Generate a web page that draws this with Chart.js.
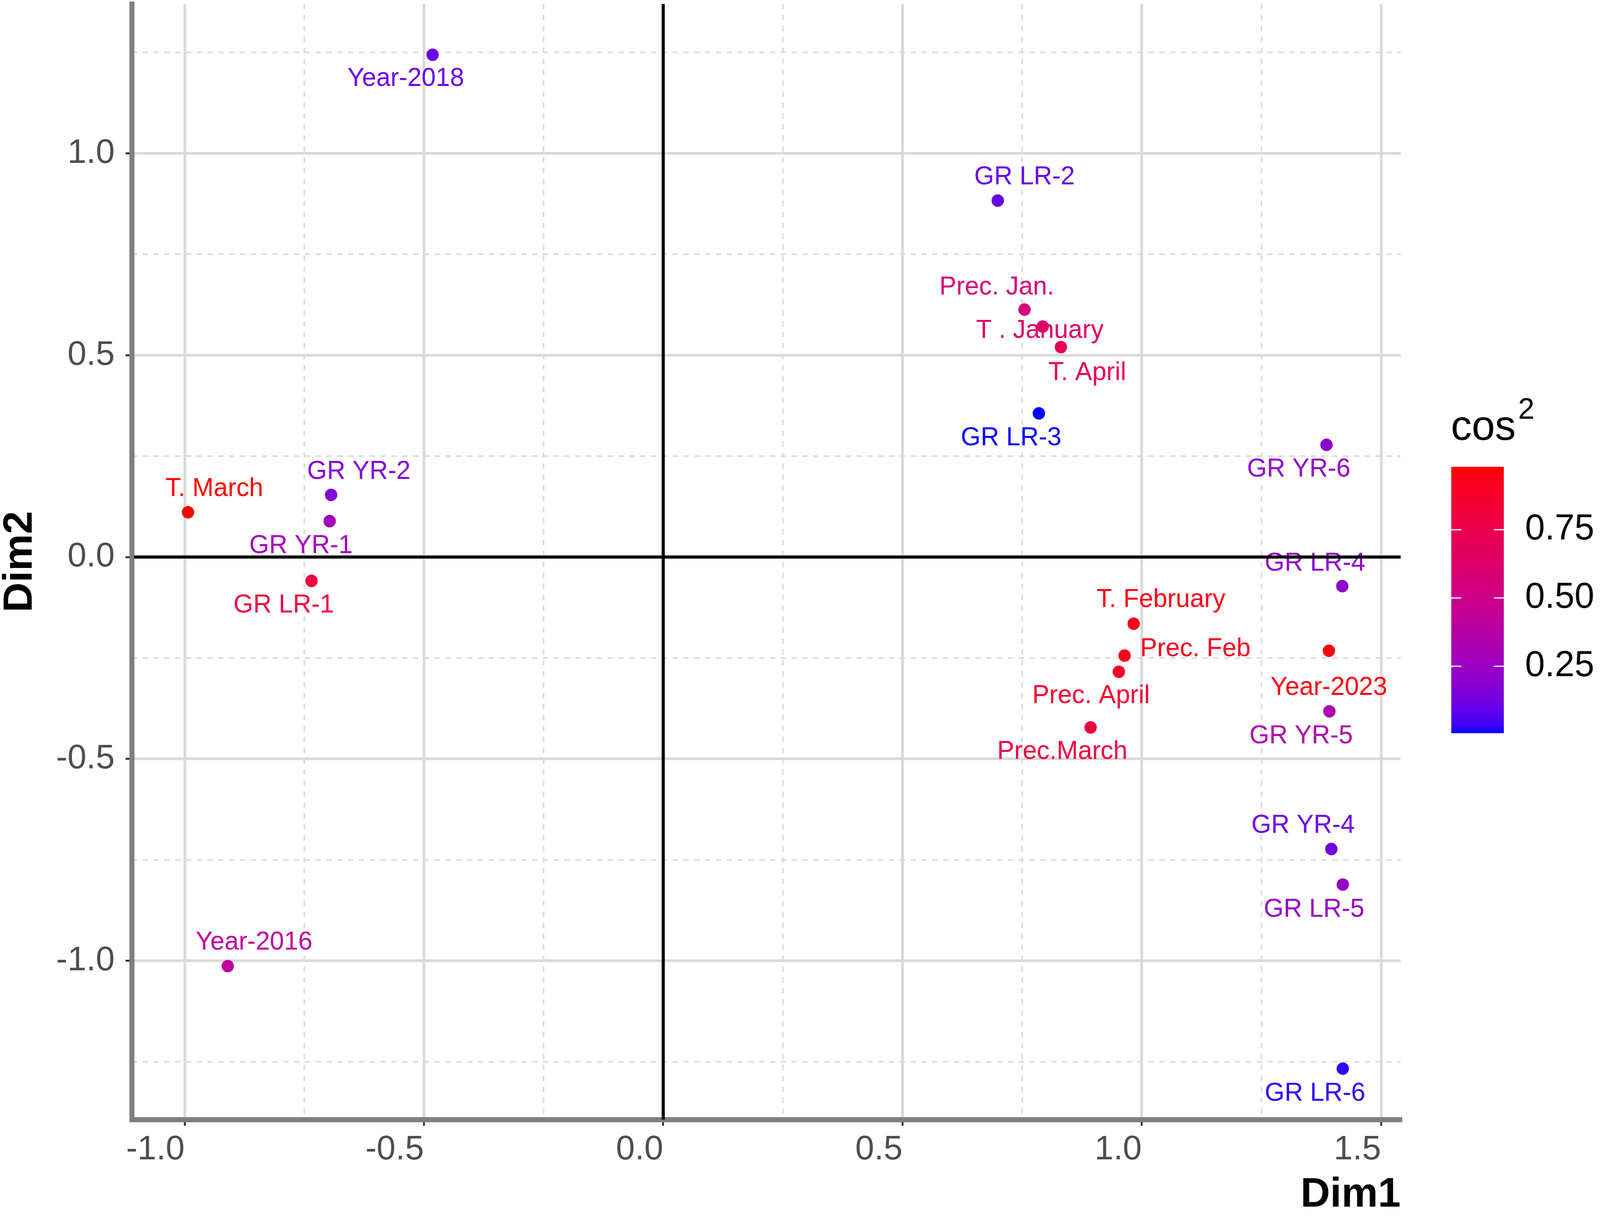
<!DOCTYPE html>
<html><head><meta charset="utf-8">
<script src="https://cdn.jsdelivr.net/npm/chart.js@4.4.1/dist/chart.umd.min.js"></script>
<style>html,body{margin:0;padding:0;background:#fff;overflow:hidden;}canvas{display:block;position:fixed;left:0;top:0;}</style>
</head><body>
<canvas id="c" width="4142" height="3113" style="width:100vw;height:100vh"></canvas>
<script>
// ---------- data ----------
const pointNames = ["Year-2018","T. March","GR YR-2","GR YR-1","GR LR-1","GR LR-2","Prec. Jan.","T . January","T. April","GR LR-3","GR YR-6","GR LR-4","T. February","Prec. Feb","Prec. April","Prec.March","Year-2023","GR YR-5","GR YR-4","GR LR-5","GR LR-6","Year-2016"];
const dim1 = [-0.482,-0.993,-0.694,-0.697,-0.735,0.699,0.755,0.793,0.831,0.785,1.386,1.419,0.983,0.964,0.952,0.893,1.391,1.392,1.396,1.420,1.420,-0.910];
const dim2 = [1.244,0.111,0.154,0.089,-0.059,0.883,0.613,0.571,0.520,0.356,0.278,-0.072,-0.165,-0.244,-0.284,-0.422,-0.232,-0.382,-0.723,-0.811,-1.267,-1.013];
const cos2 = [0.11,0.98,0.17,0.28,0.80,0.10,0.56,0.64,0.72,0.005,0.21,0.21,0.93,0.91,0.86,0.80,0.95,0.34,0.12,0.23,0.025,0.41];
// repelled label anchors (data units)
const labelDim1 = [-0.538,-0.938,-0.636,-0.757,-0.793,0.755,0.697,0.787,0.886,0.727,1.328,1.362,1.040,1.112,0.894,0.834,1.391,1.333,1.337,1.360,1.362,-0.855];
const labelDim2 = [1.184,0.169,0.211,0.027,-0.120,0.941,0.668,0.560,0.456,0.294,0.217,-0.016,-0.106,-0.228,-0.344,-0.482,-0.324,-0.444,-0.665,-0.873,-1.329,-0.955];
const dim1Range = [-1.1106, 1.541];
const dim2Range = [-1.393, 1.370];
const majorStep = 0.5;
const dim1Minor = [-0.75,-0.25,0.25,0.75,1.25];
const dim2Minor = [-1.25,-0.75,-0.25,0.25,0.75,1.25];
const legendTicks = [0.25,0.50,0.75];
const legendTitle = "cos";
const legendTitleSup = "2";

// ---------- colour scale (Lab interpolation blue -> red) ----------
function s2l(c){c/=255;return c<=0.04045?c/12.92:Math.pow((c+0.055)/1.055,2.4);}
function l2s(c){c=c<=0.0031308?12.92*c:1.055*Math.pow(c,1/2.4)-0.055;return Math.round(Math.max(0,Math.min(1,c))*255);}
const WX=0.95047,WY=1,WZ=1.08883;
function rgb2lab(rgb){const r=s2l(rgb[0]),g=s2l(rgb[1]),b=s2l(rgb[2]);
 let X=(0.4124564*r+0.3575761*g+0.1804375*b)/WX,Y=(0.2126729*r+0.7151522*g+0.0721750*b)/WY,Z=(0.0193339*r+0.1191920*g+0.9503041*b)/WZ;
 const f=t=>t>0.008856?Math.cbrt(t):7.787*t+16/116;const fx=f(X),fy=f(Y),fz=f(Z);
 return [116*fy-16,500*(fx-fy),200*(fy-fz)];}
function lab2rgb(lab){const fy=(lab[0]+16)/116,fx=fy+lab[1]/500,fz=fy-lab[2]/200;
 const fi=t=>t*t*t>0.008856?t*t*t:(t-16/116)/7.787;const X=fi(fx)*WX,Y=fi(fy)*WY,Z=fi(fz)*WZ;
 const r=3.2404542*X-1.5371385*Y-0.4985314*Z,g=-0.9692660*X+1.8760108*Y+0.0415560*Z,b=0.0556434*X-0.2040259*Y+1.0572252*Z;
 return [l2s(r),l2s(g),l2s(b)];}
const LOW=rgb2lab([0,0,255]),HIGH=rgb2lab([255,0,0]);
const cMin=Math.min(...cos2),cMax=Math.max(...cos2);
function colorAt(t){t=Math.max(0,Math.min(1,t));const L=[0,1,2].map(k=>LOW[k]+(HIGH[k]-LOW[k])*t);const c=lab2rgb(L);return `rgb(${c[0]},${c[1]},${c[2]})`;}
function colorFor(v){return colorAt((v-cMin)/(cMax-cMin));}
const pointColors = cos2.map(colorFor);

const FONT = '"Liberation Sans", Arial, sans-serif';
const TICKCOL = '#4D4D4D';
const GRIDCOL = '#DADADA';

const minorGrid = {
  id:'minorGrid',
  beforeDraw(chart){
    const {ctx,chartArea:a,scales:{x,y}}=chart;
    ctx.save();
    ctx.beginPath();ctx.rect(a.left,a.top,a.right-a.left,a.bottom-a.top);ctx.clip();
    ctx.strokeStyle=GRIDCOL;ctx.lineWidth=4;ctx.setLineDash([14,14]);
    dim1Minor.forEach(v=>{const px=x.getPixelForValue(v);ctx.beginPath();ctx.moveTo(px,a.top);ctx.lineTo(px,a.bottom);ctx.stroke();});
    dim2Minor.forEach(v=>{const py=y.getPixelForValue(v);ctx.beginPath();ctx.moveTo(a.left,py);ctx.lineTo(a.right,py);ctx.stroke();});
    ctx.restore();
  }
};
const textLabels = {
  id:'textLabels',
  beforeDatasetsDraw(chart){
    const {ctx,scales:{x,y}}=chart;
    ctx.save();
    ctx.font='66px '+FONT;ctx.textAlign='center';ctx.textBaseline='middle';
    pointNames.forEach((n,i)=>{ctx.fillStyle=pointColors[i];ctx.fillText(n,x.getPixelForValue(labelDim1[i]),y.getPixelForValue(labelDim2[i]));});
    ctx.restore();
  }
};
const zeroLines = {
  id:'zeroLines',
  afterDatasetsDraw(chart){
    const {ctx,chartArea:a,scales:{x,y}}=chart;
    ctx.save();ctx.strokeStyle='#000';ctx.lineWidth=8;
    const px=x.getPixelForValue(0),py=y.getPixelForValue(0);
    ctx.beginPath();ctx.moveTo(px,a.top);ctx.lineTo(px,a.bottom);ctx.stroke();
    ctx.beginPath();ctx.moveTo(a.left+6,py);ctx.lineTo(a.right,py);ctx.stroke();
    ctx.restore();
  }
};
const colorLegend = {
  id:'colorLegend',
  afterDraw(chart){
    const ctx=chart.ctx;
    const bx=3757,bw=136,top=1195,bot=1877;
    ctx.save();
    ctx.fillStyle='#000';ctx.textBaseline='alphabetic';ctx.textAlign='left';
    ctx.font='108px '+FONT;ctx.fillText(legendTitle,3756,1126);
    const w=ctx.measureText(legendTitle).width;
    ctx.font='76px '+FONT;ctx.fillText(legendTitleSup,3756+w+6,1072);
    const g=ctx.createLinearGradient(0,bot,0,top);
    for(let k=0;k<=40;k++){g.addColorStop(k/40,colorAt(k/40));}
    ctx.fillStyle=g;ctx.fillRect(bx,top,bw,bot-top);
    ctx.strokeStyle='#fff';ctx.lineWidth=3;
    ctx.font='92px '+FONT;ctx.textBaseline='middle';ctx.fillStyle='#000';
    legendTicks.forEach(v=>{
      const ty=bot-(v-cMin)/(cMax-cMin)*(bot-top);
      ctx.beginPath();ctx.moveTo(bx,ty);ctx.lineTo(bx+26,ty);ctx.moveTo(bx+bw-26,ty);ctx.lineTo(bx+bw,ty);ctx.stroke();
      ctx.fillText(v.toFixed(2),3948,ty);
    });
    ctx.restore();
  }
};

const tickFmt = v => Number(v).toFixed(1);

new Chart(document.getElementById('c'),{
  type:'scatter',
  data:{datasets:[{
    data: dim1.map((v,i)=>({x:v,y:dim2[i]})),
    pointBackgroundColor: pointColors,
    pointBorderWidth:0,
    pointRadius:16,
    pointHoverRadius:16
  }]},
  options:{
    responsive:false,animation:false,devicePixelRatio:1,events:[],
    layout:{autoPadding:false,padding:{left:0,right:516,top:10,bottom:0}},
    plugins:{legend:{display:false},tooltip:{enabled:false}},
    scales:{
      x:{type:'linear',min:dim1Range[0],max:dim1Range[1],
        afterFit(s){s.height=247;s.paddingLeft=0;s.paddingRight=0;s.paddingTop=0;s.paddingBottom=0;},
        ticks:{stepSize:majorStep,includeBounds:false,callback:tickFmt,align:'end',padding:9,color:TICKCOL,font:{family:FONT,size:88},maxRotation:0,autoSkip:false},
        grid:{color:GRIDCOL,lineWidth:7,tickColor:'#333333',tickWidth:5,tickLength:16},
        border:{display:true,color:'#7F7F7F',width:13},
        title:{display:true,text:'Dim1',align:'end',color:'#000',font:{family:FONT,size:106,weight:'bold',lineHeight:1},padding:{top:0,bottom:0}}
      },
      y:{type:'linear',min:dim2Range[0],max:dim2Range[1],
        afterFit(s){s.width=341;s.paddingTop=0;s.paddingBottom=0;s.paddingLeft=0;s.paddingRight=0;},
        ticks:{stepSize:majorStep,includeBounds:false,callback:tickFmt,padding:28,color:TICKCOL,font:{family:FONT,size:88},autoSkip:false},
        grid:{color:GRIDCOL,lineWidth:7,tickColor:'#333333',tickWidth:5,tickLength:16},
        border:{display:true,color:'#7F7F7F',width:13},
        title:{display:true,text:'Dim2',align:'center',color:'#000',font:{family:FONT,size:106,weight:'bold',lineHeight:1},padding:{top:0,bottom:0}}
      }
    }
  },
  plugins:[minorGrid,textLabels,zeroLines,colorLegend]
});
</script>
</body></html>
